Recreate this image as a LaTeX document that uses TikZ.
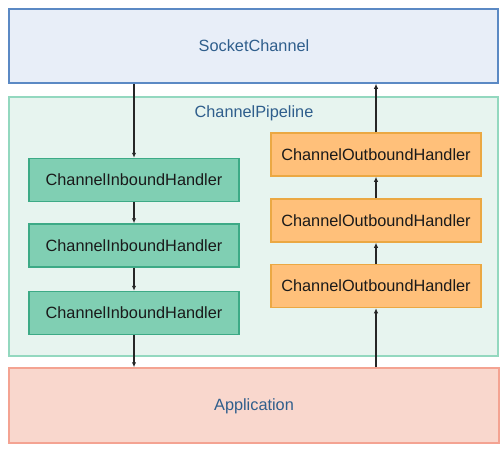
\documentclass[tikz,border=0pt]{standalone}
\usepackage{fontspec}
\setmainfont{Liberation Sans}
\usetikzlibrary{arrows.meta,calc}
\definecolor{SocketFill}{HTML}{E8EEF8}
\definecolor{SocketLine}{HTML}{5B89C4}
\definecolor{PipeFill}{HTML}{E7F4EF}
\definecolor{PipeLine}{HTML}{93D8BF}
\definecolor{InFill}{HTML}{80CFB3}
\definecolor{InLine}{HTML}{3DAA86}
\definecolor{OutFill}{HTML}{FFC07A}
\definecolor{OutLine}{HTML}{EBA843}
\definecolor{AppFill}{HTML}{F9D7CD}
\definecolor{AppLine}{HTML}{F4A392}
\definecolor{TitleBlue}{HTML}{2F5E8C}
\definecolor{HandlerText}{HTML}{1A1A1A}

\tikzset{
  area/.style={draw, line width=1.5pt, minimum width=489pt, inner sep=0pt},
  handler/.style={draw, line width=1.5pt, minimum width=210pt, minimum height=43pt,
    text=HandlerText, inner sep=0pt},
  flow/.style={-{Latex[length=5pt,width=4.5pt]}, line width=1.3pt, black!85}
}

\begin{document}
\begin{tikzpicture}[x=1pt, y=-1pt, font=\fontsize{16.3}{19}\selectfont]
  \useasboundingbox (0,0) rectangle (504,450);

  % Outer layers: channel on top, pipeline in the middle, application below.
  \node[area, fill=SocketFill, draw=SocketLine, minimum height=74pt] (socket) at (253.5,46) {};
  \node[text=TitleBlue] (socketlbl) at (254,46) {SocketChannel};
  \node[area, fill=PipeFill, draw=PipeLine, minimum height=259pt] (pipeline) at (253.5,226.5) {};
  \node[text=TitleBlue] (pipelbl) at (254,113) {ChannelPipeline};
  \node[area, fill=AppFill, draw=AppLine, minimum height=75pt, minimum width=490pt] (app) at (254,405.5) {};
  \node[text=TitleBlue] (applbl) at (254,406) {Application};

  % Inbound handlers on the left, outbound handlers on the right.
  \foreach \i/\y in {1/180,2/245.5,3/313}{
    \node[handler, fill=InFill, draw=InLine] (in\i) at (134,\y) {ChannelInboundHandler};
  }
  \foreach \i/\y in {1/154.5,2/220.5,3/286}{
    \node[handler, fill=OutFill, draw=OutLine] (out\i) at (376,\y) {ChannelOutboundHandler};
  }

  % Inbound events flow down, outbound events flow up.
  \draw[flow] (in1.north |- socket.south) -- (in1.north);
  \draw[flow] (in1) -- (in2);
  \draw[flow] (in2) -- (in3);
  \draw[flow] (in3.south) -- (in3.south |- app.north);
  \draw[flow] (out3.south |- app.north) -- (out3.south);
  \draw[flow] (out3) -- (out2);
  \draw[flow] (out2) -- (out1);
  \draw[flow] (out1.north) -- (out1.north |- socket.south);
\end{tikzpicture}
\end{document}
